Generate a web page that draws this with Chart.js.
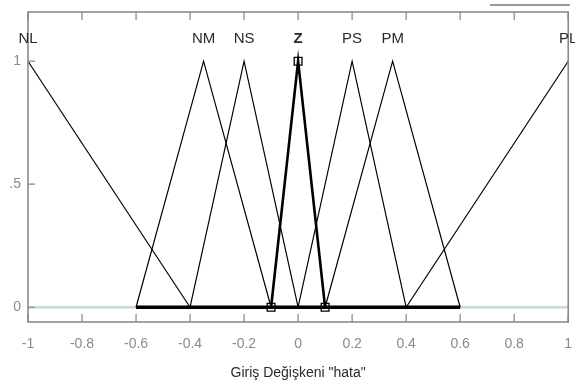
<!DOCTYPE html>
<html>
<head>
<meta charset="utf-8">
<script src="https://cdn.jsdelivr.net/npm/chart.js@4.4.0/dist/chart.umd.min.js"></script>
<style>
  html, body { margin: 0; padding: 0; background: #fff; }
  #wrap { position: relative; width: 575px; height: 390px; }
  #topbar { position: absolute; left: 490px; top: 4px; width: 80px; height: 0; border-top: 2px solid #999; }
</style>
</head>
<body>
<div id="wrap">
  <canvas id="chart" width="575" height="390"></canvas>
  <div id="topbar"></div>
</div>
<script>
// membership functions of input "hata"
const mfNames = ['NL', 'NM', 'NS', 'Z', 'PS', 'PM', 'PL'];
const mfX = [
  [-1, -0.4],
  [-0.6, -0.35, -0.1],
  [-0.4, -0.2, 0],
  [-0.1, 0, 0.1],
  [0, 0.2, 0.4],
  [0.1, 0.35, 0.6],
  [0.4, 1]
];
const mfY = [
  [1, 0],
  [0, 1, 0],
  [0, 1, 0],
  [0, 1, 0],
  [0, 1, 0],
  [0, 1, 0],
  [0, 1]
];
const labelX = [-1, -0.35, -0.2, 0, 0.2, 0.35, 1];
const labelY = 1.09;
const selected = 'Z';
const baseX = [-0.6, 0.6];
const rangeX = [-1, 1];
const xTicks = [-1, -0.8, -0.6, -0.4, -0.2, 0, 0.2, 0.4, 0.6, 0.8, 1];
const yTicks = [0, 0.5, 1];
const yTickText = ['0', '.5', '1'];
const axisTitle = 'Giriş Değişkeni "hata"';

function pts(xs, ys) {
  return xs.map((x, i) => ({ x: x, y: ys[i] }));
}

const datasets = [];
// faint coloured zero lines across the full range
datasets.push({ data: pts(rangeX, [0, 0]), borderColor: 'rgba(170,235,230,0.8)', borderWidth: 3, pointRadius: 0 });
datasets.push({ data: pts(rangeX, [0, 0]), borderColor: 'rgba(245,180,195,0.8)', borderWidth: 1, pointRadius: 0 });
// thick baseline
datasets.push({ data: pts(baseX, [0, 0]), borderColor: '#000', borderWidth: 3.5, pointRadius: 0 });
for (let i = 0; i < mfNames.length; i++) {
  const isSel = mfNames[i] === selected;
  datasets.push({
    data: pts(mfX[i], mfY[i]),
    borderColor: '#000',
    borderWidth: isSel ? 2.6 : 1.2,
    pointRadius: 0
  });
}
// square markers on the selected function
const selIdx = mfNames.indexOf(selected);
datasets.push({
  data: pts(mfX[selIdx], mfY[selIdx]),
  showLine: false,
  pointStyle: 'rect',
  pointRadius: 5.5,
  pointBorderColor: '#000',
  pointBorderWidth: 1.3,
  pointBackgroundColor: 'rgba(0,0,0,0)'
});
// later datasets go on top
datasets.forEach((d, i) => { d.order = datasets.length - i; });

// box, inward ticks and mf labels
const decor = {
  id: 'decor',
  afterDraw(chart) {
    const ctx = chart.ctx;
    const a = chart.chartArea;
    const xs = chart.scales.x, ys = chart.scales.y;
    ctx.save();
    ctx.strokeStyle = '#858585';
    ctx.lineWidth = 1.5;
    ctx.strokeRect(a.left, a.top, a.right - a.left, a.bottom - a.top);
    ctx.lineWidth = 1.2;
    ctx.beginPath();
    xTicks.forEach(v => {
      const px = xs.getPixelForValue(v);
      ctx.moveTo(px, a.bottom); ctx.lineTo(px, a.bottom - 8);
      ctx.moveTo(px, a.top); ctx.lineTo(px, a.top + 8);
    });
    yTicks.forEach(v => {
      const py = ys.getPixelForValue(v);
      ctx.moveTo(a.left, py); ctx.lineTo(a.left + 7, py);
    });
    ctx.stroke();
    ctx.textAlign = 'center';
    ctx.textBaseline = 'middle';
    ctx.fillStyle = '#2b2a22';
    mfNames.forEach((n, i) => {
      ctx.font = (n === selected ? 'bold ' : '') + '15px "Liberation Sans", Arial, sans-serif';
      ctx.fillText(n, xs.getPixelForValue(labelX[i]), ys.getPixelForValue(labelY));
    });
    ctx.restore();
  }
};

new Chart(document.getElementById('chart').getContext('2d'), {
  type: 'scatter',
  data: { datasets: datasets },
  plugins: [decor],
  options: {
    responsive: false,
    animation: false,
    showLine: true,
    layout: { padding: { top: 12, right: 2, left: 0, bottom: 0 } },
    plugins: { legend: { display: false }, tooltip: { enabled: false } },
    elements: { line: { tension: 0, borderCapStyle: 'butt' } },
    scales: {
      x: {
        type: 'linear',
        min: -1, max: 1,
        afterBuildTicks: s => { s.ticks = xTicks.map(v => ({ value: v })); },
        afterFit: s => { s.height = 68; s.paddingLeft = 0; s.paddingRight = 0; },
        grid: { display: false, drawTicks: false },
        border: { display: false },
        ticks: {
          padding: 14,
          color: '#8a8a8a',
          font: { family: '"Liberation Sans", Arial, sans-serif', size: 14 },
          maxRotation: 0,
          callback: v => String(v)
        },
        title: {
          display: true,
          text: axisTitle,
          color: '#2b2b2b',
          font: { family: '"Liberation Sans", Arial, sans-serif', size: 14 },
          padding: { top: 0, bottom: 8 }
        }
      },
      y: {
        type: 'linear',
        min: -0.06, max: 1.2,
        afterBuildTicks: s => { s.ticks = yTicks.map(v => ({ value: v })); },
        afterFit: s => { s.width = 28; s.paddingTop = 0; s.paddingBottom = 0; },
        grid: { display: false, drawTicks: false },
        border: { display: false },
        ticks: {
          padding: 7,
          color: '#8a8a8a',
          font: { family: '"Liberation Sans", Arial, sans-serif', size: 14 },
          callback: (v, i) => yTickText[i]
        }
      }
    }
  }
});
</script>
</body>
</html>
